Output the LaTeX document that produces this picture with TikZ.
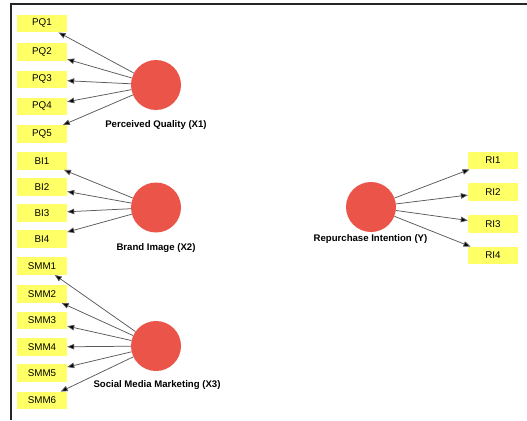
\documentclass[tikz,border=0pt]{standalone}
\usepackage{fontspec}
\setmainfont{Liberation Sans}
\usetikzlibrary{arrows.meta}
\definecolor{boxyellow}{HTML}{FFFF66}
\definecolor{lvred}{HTML}{EB5449}
\begin{document}
\begin{tikzpicture}[x=1pt,y=-1pt,
  ind/.style={fill=boxyellow,draw=none,minimum width=50pt,minimum height=17.5pt,inner sep=0pt,font=\fontsize{9.8}{11}\selectfont},
  lv/.style={circle,fill=lvred,draw=none,minimum size=50pt,inner sep=0pt},
  lvlabel/.style={font=\fontsize{9.6}{11}\selectfont\bfseries,inner sep=0pt},
  load/.style={draw=black!65,line width=0.75pt,-{Triangle[length=7pt,width=5.5pt,fill=black]}}]
\useasboundingbox (0,0) rectangle (527,420);
\draw[line width=2pt,black!85] (11,420) -- (11,4.5) -- (527,4.5);
% Perceived Quality
\node[lv] (x1) at (156,85) {};
\node[lvlabel] (x1l) at (156,125) {Perceived Quality (X1)};
\node[ind] (pq1) at (42,23.5) {PQ1};
\node[ind] (pq2) at (42,52) {PQ2};
\node[ind] (pq3) at (42,79.5) {PQ3};
\node[ind] (pq4) at (42,106.5) {PQ4};
\node[ind] (pq5) at (42,134) {PQ5};
\foreach \n in {pq1,pq2,pq3,pq4,pq5} \draw[load] (x1) -- (\n);
% Brand Image
\node[lv] (x2) at (156,207.5) {};
\node[lvlabel] (x2l) at (156,248) {Brand Image (X2)};
\node[ind] (bi1) at (42,161) {BI1};
\node[ind] (bi2) at (42,187) {BI2};
\node[ind] (bi3) at (42,213) {BI3};
\node[ind] (bi4) at (42,239) {BI4};
\foreach \n in {bi1,bi2,bi3,bi4} \draw[load] (x2) -- (\n);
% Social Media Marketing
\node[lv] (x3) at (156,346) {};
\node[lvlabel] (x3l) at (157,385) {Social Media Marketing (X3)};
\node[ind] (smm1) at (42,266) {SMM1};
\node[ind] (smm2) at (42,294) {SMM2};
\node[ind] (smm3) at (42,320.5) {SMM3};
\node[ind] (smm4) at (42,347) {SMM4};
\node[ind] (smm5) at (42,373) {SMM5};
\node[ind] (smm6) at (42,400.5) {SMM6};
\foreach \n in {smm1,smm2,smm3,smm4,smm5,smm6} \draw[load] (x3) -- (\n);
% Repurchase Intention
\node[lv] (y) at (371,207) {};
\node[lvlabel] (yl) at (370.5,239.5) {Repurchase Intention (Y)};
\node[ind] (ri1) at (493,160.5) {RI1};
\node[ind] (ri2) at (493,192) {RI2};
\node[ind] (ri3) at (493,224) {RI3};
\node[ind] (ri4) at (493,255.5) {RI4};
\foreach \n in {ri1,ri2,ri3,ri4} \draw[load] (y) -- (\n);
\end{tikzpicture}
\end{document}
